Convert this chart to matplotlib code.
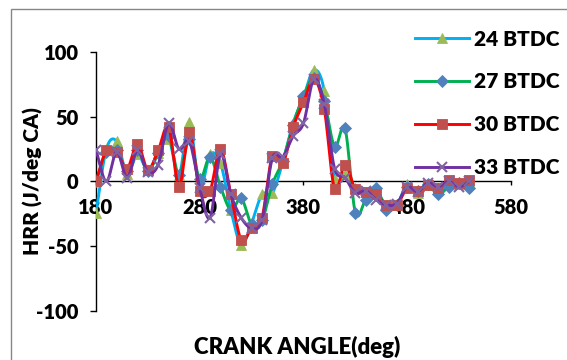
import numpy as np
import matplotlib
matplotlib.use("Agg")
import matplotlib.pyplot as plt
from matplotlib.patches import Rectangle

plt.rcParams['font.family'] = ['Lato', 'DejaVu Sans']
plt.rcParams['font.weight'] = 'heavy'
plt.rcParams['axes.unicode_minus'] = False

# crank angle, every 10 deg
angle = np.arange(180, 541, 10)

hrr_24 = [-24, 25, 31, 6, 21, 9, 22, 33, 5, 46, -5, 21, 14, -22, -49, -32, -10, -9, 15,
          45, 65, 86, 70, 2, 6, -5, -8, -8, -18, -18, -2, -9, -3, -5, -1, -2, 0]
hrr_27 = [0, 23, 24, 8, 24, 8, 22, 35, 5, 33, 2, 19, -4, -22, -13, -33, -30, -2, 16,
          44, 66, 80, 62, 27, 41, -24, -14, -5, -22, -18, -4, -7, -2, -10, -4, -1, -5]
hrr_30 = [0, 24, 23, 10, 29, 9, 24, 42, -4, 38, -7, -7, 25, -10, -45, -36, -28, 20, 14,
          42, 61, 79, 56, -6, 13, -6, -8, -10, -18, -18, -5, -7, -3, -5, 1, -1, 1]
hrr_33 = [24, 0, 23, 3, 24, 7, 13, 45, 25, 31, -5, -28, 21, -10, -28, -36, -30, 18, 19,
          35, 45, 79, 60, 10, 3, -9, -7, -14, -18, -17, -4, -8, -1, -4, 0, -4, 0]

labels = ['24 BTDC', '27 BTDC', '30 BTDC', '33 BTDC']
series = [hrr_24, hrr_27, hrr_30, hrr_33]
line_colors = ['#00B0F0', '#00B050', '#FF0000', '#7030A0']
marker_colors = ['#9BBB59', '#4F81BD', '#C0504D', '#8064A2']
markers = ['^', 'D', 's', 'x']
msizes = [7.5, 6, 7, 7]

N_SUB = 12


def smooth(x, y, n=N_SUB):
    # Catmull-Rom curve through every point, like a smoothed spreadsheet line
    x = np.asarray(x, float)
    y = np.asarray(y, float)
    px = np.concatenate([[2 * x[0] - x[1]], x, [2 * x[-1] - x[-2]]])
    py = np.concatenate([[2 * y[0] - y[1]], y, [2 * y[-1] - y[-2]]])
    t = np.linspace(0, 1, n, endpoint=False)
    xs, ys = [], []
    for i in range(1, len(px) - 2):
        for p, out in ((px, xs), (py, ys)):
            p0, p1, p2, p3 = p[i - 1], p[i], p[i + 1], p[i + 2]
            out.extend(0.5 * (2 * p1 + (-p0 + p2) * t
                              + (2 * p0 - 5 * p1 + 4 * p2 - p3) * t ** 2
                              + (-p0 + 3 * p1 - 3 * p2 + p3) * t ** 3))
    xs.append(x[-1])
    ys.append(y[-1])
    return np.array(xs), np.array(ys)


fig = plt.figure(figsize=(5.67, 3.6), dpi=100)
ax = fig.add_axes([0.1693, 0.1361, 0.7319, 0.7195])

for y, lab, lc, mc, mk, ms in zip(series, labels, line_colors, marker_colors, markers, msizes):
    sx, sy = smooth(angle, y)
    ax.plot(sx, sy, color=lc, lw=2.1, marker=mk, markevery=N_SUB, ms=ms,
            mfc=mc, mec=mc, mew=1.5 if mk == 'x' else 0.6, label=lab)

ax.set_xlim(180, 580)
ax.set_ylim(-100, 100)
ax.set_xticks([180, 280, 380, 480, 580])
ax.set_yticks([-100, -50, 0, 50, 100])

ax.spines['top'].set_visible(False)
ax.spines['right'].set_visible(False)
ax.spines['bottom'].set_position(('data', 0))
for s in ('left', 'bottom'):
    ax.spines[s].set_linewidth(1.0)
    ax.spines[s].set_zorder(1)

ax.tick_params(axis='y', direction='out', length=4.5, width=1, pad=8, labelsize=14.5)
ax.tick_params(axis='x', direction='out', length=3, width=1, pad=9, labelsize=14.5)
for t in ax.get_xticklabels() + ax.get_yticklabels():
    t.set_fontweight('heavy')

ax.set_ylabel('HRR (J/deg CA)', fontsize=15, fontweight='heavy')
ax.yaxis.set_label_coords(-0.128, 0.5)
fig.text(0.524, 0.036, 'CRANK ANGLE(deg)', ha='center', va='center',
         fontsize=16, fontweight='heavy')

fig.legend(loc='upper left', bbox_to_anchor=(0.732, 0.918), frameon=False,
           prop={'size': 15, 'weight': 'heavy'}, handlelength=2.6, handletextpad=0.25,
           labelspacing=1.15, borderaxespad=0, borderpad=0)

fig.patches.append(Rectangle((11 / 567, -0.1), 1.2, 0.975 + 0.1, transform=fig.transFigure,
                             fill=False, edgecolor='#868686', lw=1.0))

fig.savefig('out.png', dpi=100)
